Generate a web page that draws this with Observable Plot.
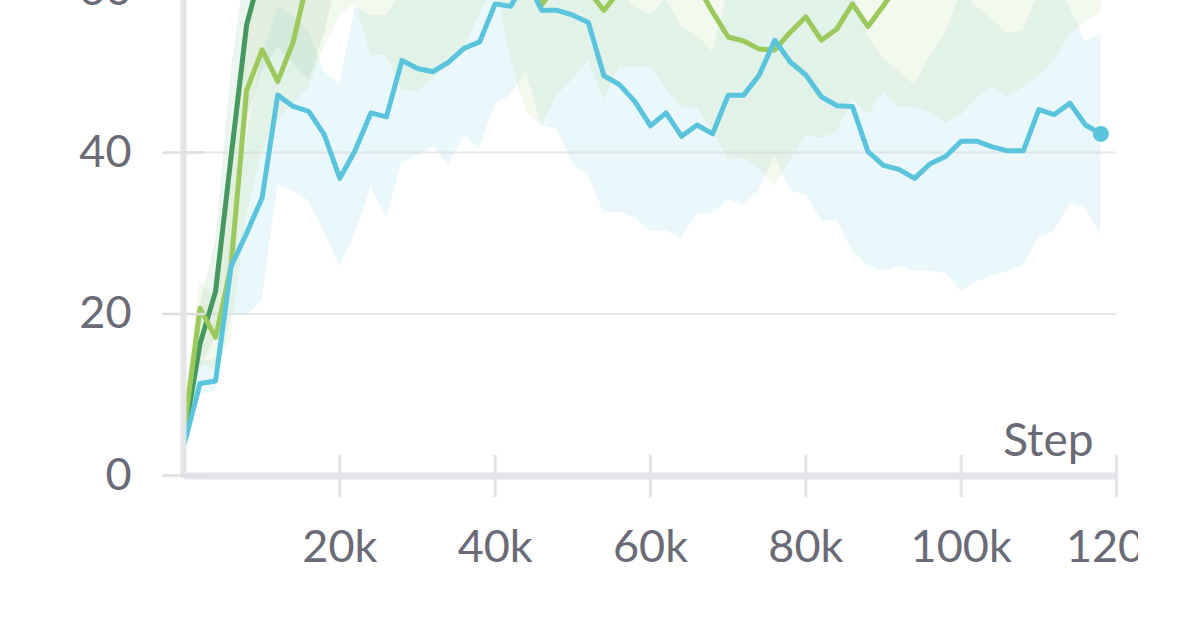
<!DOCTYPE html>
<html>
<head>
<meta charset="utf-8">
<script src="https://cdn.jsdelivr.net/npm/d3@7"></script>
<script src="https://cdn.jsdelivr.net/npm/@observablehq/plot@0.6"></script>
<style>
  html, body { margin: 0; padding: 0; background: #ffffff; }
  #chart { width: 1196px; height: 631px; overflow: hidden; }
</style>
</head>
<body>
<div id="chart"></div>
<script>
// Steps (in thousands)
const stepsK = [0,2,4,6,8,10,12,14,16,18,20,22,24,26,28,30,32,34,36,38,40,42,44,46,48,50,52,54,56,58,60,62,64,66,68,70,72,74,76,78,80,82,84,86,88,90,92,94,96,98,100,102,104,106,108,110,112,114,116,118];

// Run 1 (cyan)
const cyanMean = [4,11.4,11.7,25.9,30,34.4,47.1,45.7,45.1,42.2,36.8,40.3,44.9,44.4,51.4,50.4,50,51.2,52.9,53.7,58.4,58.1,61.5,57.6,57.6,57,56.1,49.5,48.4,46.3,43.3,44.9,42,43.4,42.3,47.1,47.1,49.6,53.9,51.2,49.6,46.9,45.8,45.7,40.1,38.4,37.9,36.8,38.6,39.5,41.4,41.4,40.7,40.2,40.2,45.3,44.7,46.1,43.4,42.3];
const cyanMin = [2,10,10.5,20,19.8,21.6,36,35.2,34,30.2,25.9,30,35.6,31.9,38.7,39.5,40.7,38.5,42,40.5,45.9,47.1,50,43.3,42.8,38.5,37.2,32.5,32.6,31.9,30.2,30.3,29.4,32.3,32.5,34.1,33.5,35.2,39.5,35.2,34.8,31.5,31.5,27.8,25.9,25.3,25.9,25.3,25.3,25,22.8,24,24.7,25.3,26,29.4,30.2,33.7,33.1,29.8];
const cyanMax = [8,14,14.5,30,42,52,58,57,55,50,48.5,58,57,57,60,62,60,62,64,64,66,66,68,66,66,65,64,62,60,58,57,59,55.5,54.5,52.5,60,62,62,64,62,62,62,62,60,54.5,51.6,50,48.4,51.9,54.8,60,58,56.5,54.7,55.1,60,61,58,53.7,54.7];

// Run 2 (light green)
const lightMean = [6,20.7,17.1,26,47.7,52.7,48.8,53.7,62,64,66,65,67,66,68,67,69,68,67,66,64,62,61,58.3,61,63,60,57.6,60,63,64,63,62,60.7,57.4,54.3,53.8,52.8,52.7,54.9,56.8,53.9,55.3,58.4,55.6,58.2,61,63,64,65,66,65,64,66,65,67,66,65,66,65];
const lightMin = [4,14,13,17,32,40,44,46,48,53,57,58.5,52,52,47.7,47.5,49.2,50.4,52.9,57,61,51.6,45,43.3,47.1,49,51.4,46.5,50.6,50.6,50.6,47.9,45.5,45.5,42.6,39.1,39.3,38,35.8,39,42,41.8,42.4,46.7,44.6,47.5,45.5,45.6,44.9,43.6,44.6,46.7,48.1,46.9,48.1,49.4,51.4,54.5,56.2,57.2];
const lightMax = [9,24,22,36,56,62,62,64,68,70,72,71,73,72,74,73,75,74,73,72,70,69,68,67,69,70,69,67,69,70,71,70,69,68,66,64,63,63,63,64,66,65,66,67,66,67,69,70,71,72,73,72,71,73,72,74,73,72,73,72];

// Run 3 (dark green)
const darkMean = [5,16.3,22.8,39.5,55.8,63,66,68,70,69,71,72,71,73,72,74,73,72,74,73,75,74,73,75,74,76,75,74,73,75,74,76,75,74,76,75,77,76,75,77,76,78,77,76,78,77,76,78,77,79,78,77,79,78,77,79,78,80,79,78];
const darkMin = [3,13,17,28,44,50,53,51,49,54.5,63,65,64,66,65,67,66,65,67,66,68,67,66,68,67,69,68,67,66,68,67,69,68,67,69,68,70,69,68,70,69,71,70,69,71,70,69,71,70,72,71,70,72,71,70,72,71,73,72,71];
const darkMax = [7,21,29,50,64,70,74,76,78,77,79,80,79,81,80,82,81,80,82,81,83,82,81,83,82,84,83,82,81,83,82,84,83,82,84,83,85,84,83,85,84,86,85,84,86,85,84,86,85,87,86,85,87,86,85,87,86,88,87,86];

// Axis ticks
const yTickValues = [0, 20, 40, 60];
const yGridValues = [20, 40];
const xTickValues = [20000, 40000, 60000, 80000, 100000, 120000];
const xTickLabels = ["20k", "40k", "60k", "80k", "100k", "120k"];
const xAxisTitle = "Step";

const series = [
  {name: "cyan", color: "#5ac4dc", mean: cyanMean, min: cyanMin, max: cyanMax, bandOpacity: 0.12},
  {name: "light", color: "#9bc95b", mean: lightMean, min: lightMin, max: lightMax, bandOpacity: 0.11},
  {name: "dark", color: "#45995e", mean: darkMean, min: darkMin, max: darkMax, bandOpacity: 0.1}
];

function rows(s) {
  return stepsK.map((k, i) => ({step: k * 1000, mean: s.mean[i], lo: s.min[i], hi: s.max[i]}));
}
const cyanRows = rows(series[0]);
const lightRows = rows(series[1]);
const darkRows = rows(series[2]);

const textColor = "#6a6b76";
const axisColor = "#e4e4e8";

const marks = [];
// bands
for (const [s, r] of [[series[0], cyanRows], [series[1], lightRows], [series[2], darkRows]]) {
  marks.push(Plot.areaY(r, {x: "step", y1: "lo", y2: "hi", fill: s.color, fillOpacity: s.bandOpacity, clip: true}));
}
// grid
marks.push(Plot.ruleY(yGridValues, {stroke: "#cfd0d6", strokeOpacity: 0.5, strokeWidth: 2}));
// lines
marks.push(Plot.line(darkRows, {x: "step", y: "mean", stroke: series[2].color, strokeWidth: 5, clip: true}));
marks.push(Plot.line(lightRows, {x: "step", y: "mean", stroke: series[1].color, strokeWidth: 5, clip: true}));
marks.push(Plot.line(cyanRows, {x: "step", y: "mean", stroke: series[0].color, strokeWidth: 5, clip: true}));
marks.push(Plot.dot(cyanRows.slice(-1), {x: "step", y: "mean", r: 8, fill: series[0].color, stroke: null}));
// axis lines
marks.push(Plot.ruleX([0], {stroke: axisColor, strokeWidth: 6, dx: -1, insetBottom: -3}));
marks.push(Plot.ruleY([0], {stroke: axisColor, strokeWidth: 7, dy: 0.5}));
// y tick marks
marks.push(Plot.ruleY(yTickValues, {stroke: "#dedfe3", strokeWidth: 2.5, insetLeft: -22, insetRight: 911}));
// x tick marks
marks.push(Plot.ruleX(xTickValues, {stroke: axisColor, strokeWidth: 3, insetTop: 455, insetBottom: -22}));
// labels
marks.push(Plot.text(yTickValues, {y: d => d, frameAnchor: "left", dx: -53, textAnchor: "end", lineAnchor: "middle", text: d => String(d), fill: textColor, fontSize: 45}));
marks.push(Plot.text(xTickValues, {x: d => d, frameAnchor: "bottom", dy: 72, lineAnchor: "middle", text: (d, i) => xTickLabels[i], fill: textColor, fontSize: 45}));
marks.push(Plot.text([xAxisTitle], {frameAnchor: "bottom-right", dx: -23, dy: -20, textAnchor: "end", lineAnchor: "bottom", text: d => d, fill: textColor, fontSize: 46}));

const chart = Plot.plot({
  width: 1138,
  height: 631,
  marginTop: 0,
  marginBottom: 156,
  marginLeft: 184,
  marginRight: 22,
  x: {domain: [0, 120000], axis: null},
  y: {domain: [0, 58.82], axis: null},
  style: {fontFamily: "Lato, 'Noto Sans', sans-serif", fontSize: "45px", color: textColor, background: "#ffffff", overflow: "hidden"},
  marks
});
document.getElementById("chart").appendChild(chart);
</script>
</body>
</html>
